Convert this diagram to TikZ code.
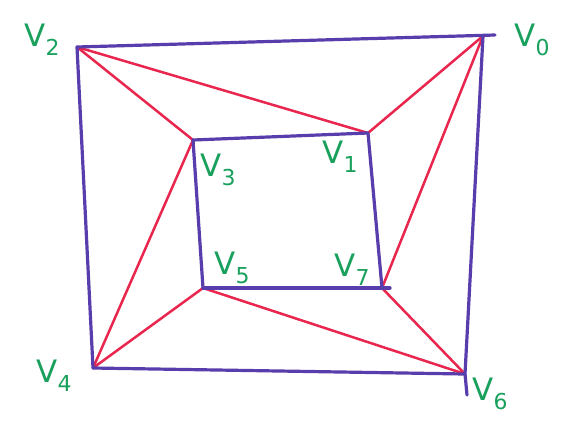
\documentclass[tikz,border=0pt]{standalone}
\usepackage{fontspec}
\setmainfont{DejaVu Sans}
\definecolor{penblue}{RGB}{88,62,172}
\definecolor{penred}{RGB}{232,38,78}
\definecolor{pengreen}{RGB}{24,160,92}
\newcommand{\vlab}[1]{V\raisebox{-9bp}{\fontsize{22}{22}\selectfont #1}}
\begin{document}
\begin{tikzpicture}[x=1bp,y=-1bp,
  blueedge/.style={draw=penblue,line width=3.2bp,line cap=round,line join=round},
  rededge/.style={draw=penred,line width=2.5bp,line cap=round},
  vlabel/.style={text=pengreen,font=\fontsize{31}{33}\selectfont,inner sep=0pt}]
\useasboundingbox (0,0) rectangle (563,425);
\fill[white] (0,0) rectangle (563,425);
% vertices
\coordinate (v2) at (77,47);
\coordinate (v0) at (483,36);
\coordinate (v4) at (93,368);
\coordinate (v6) at (465,374);
\coordinate (v3) at (193,140);
\coordinate (v1) at (368,133);
\coordinate (v5) at (203,288);
\coordinate (v7) at (382,288);
\coordinate (v0t) at (495,35);
\coordinate (v6t) at (467,395);
\coordinate (v7t) at (390,288);
% red edges
\draw[rededge] (v2) -- (v3);
\draw[rededge] (v2) -- (v1);
\draw[rededge] (v0) -- (v1);
\draw[rededge] (v0) -- (v7);
\draw[rededge] (v6) -- (v7);
\draw[rededge] (v6) -- (v5);
\draw[rededge] (v4) -- (v5);
\draw[rededge] (v4) -- (v3);
% blue edges
\draw[blueedge] (v4) -- (v2) -- (v0t);
\draw[blueedge] (v0) -- (v6) -- (v6t);
\draw[blueedge] (v6) -- (v4);
\draw[blueedge] (v5) -- (v3) -- (v1) -- (v7);
\draw[blueedge] (v5) -- (v7t);
% labels
\node[vlabel] (l2) at (42,40) {\vlab{2}};
\node[vlabel] (l0) at (532,40) {\vlab{0}};
\node[vlabel] (l3) at (218,170) {\vlab{3}};
\node[vlabel] (l1) at (340,157) {\vlab{1}};
\node[vlabel] (l5) at (232,268) {\vlab{5}};
\node[vlabel] (l7) at (352,270) {\vlab{7}};
\node[vlabel] (l4) at (54,376) {\vlab{4}};
\node[vlabel] (l6) at (490,394) {\vlab{6}};
\end{tikzpicture}
\end{document}
